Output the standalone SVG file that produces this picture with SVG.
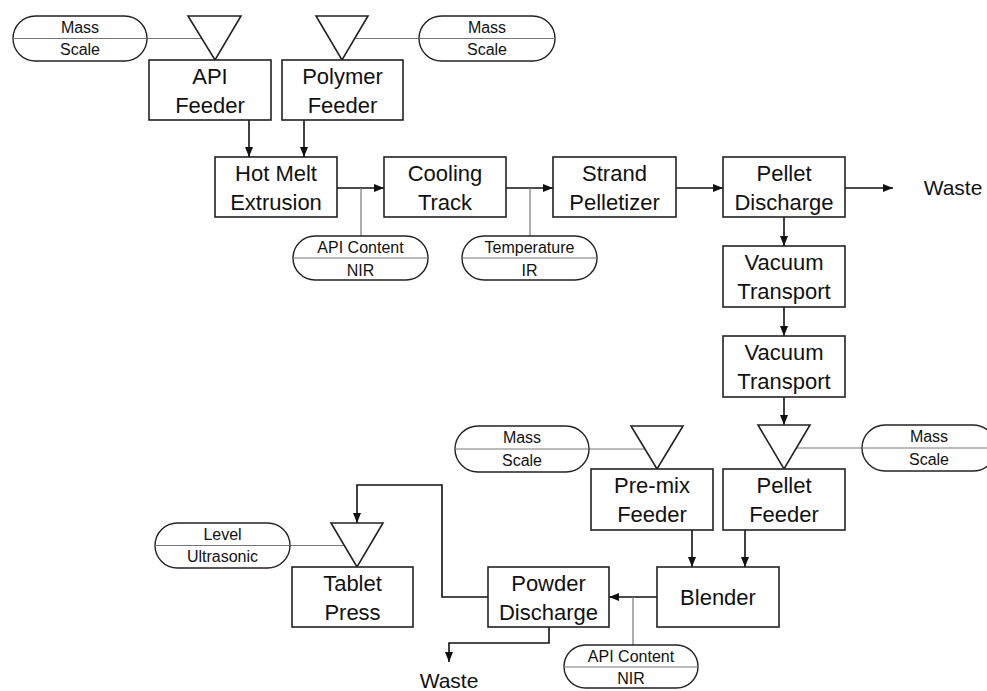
<svg xmlns="http://www.w3.org/2000/svg" width="987" height="691" viewBox="0 0 987 691">
<style>
.box{fill:#fff;stroke:#222;stroke-width:1.6}
.tri{fill:#fff;stroke:#222;stroke-width:1.6}
.pill{fill:#fff;stroke:#222;stroke-width:1.4}
.div{stroke:#777;stroke-width:1;fill:none}
.tap{stroke:#777;stroke-width:1.2;fill:none}
.flow{stroke:#111;stroke-width:1.6;fill:none}
.bt{font-family:"Liberation Sans",Arial,sans-serif;font-size:22px;fill:#111;text-anchor:middle}
.pt{font-family:"Liberation Sans",Arial,sans-serif;font-size:16px;fill:#111;text-anchor:middle}
</style>
<defs>
<marker id="ah" markerUnits="userSpaceOnUse" markerWidth="10" markerHeight="10" viewBox="0 0 10 10" refX="10" refY="5" orient="auto">
<path d="M0,1 L10,5 L0,9 Z" fill="#111"/>
</marker>
</defs>
<rect width="987" height="691" fill="#fff"/>

<g id="connectors">
<path class="flow" d="M249,120 V157" marker-end="url(#ah)"/>
<path class="flow" d="M304,120 V157" marker-end="url(#ah)"/>
<path class="flow" d="M337,188 H384" marker-end="url(#ah)"/>
<path class="flow" d="M506,188 H553" marker-end="url(#ah)"/>
<path class="flow" d="M676,188 H723" marker-end="url(#ah)"/>
<path class="flow" d="M845,188 H893" marker-end="url(#ah)"/>
<path class="flow" d="M784,217 V246" marker-end="url(#ah)"/>
<path class="flow" d="M784,307 V336" marker-end="url(#ah)"/>
<path class="flow" d="M784,397 V425" marker-end="url(#ah)"/>
<path class="flow" d="M692,530 V567" marker-end="url(#ah)"/>
<path class="flow" d="M745,530 V567" marker-end="url(#ah)"/>
<path class="flow" d="M657,597 H609" marker-end="url(#ah)"/>
<path class="flow" d="M488,597 H442 V485 H357 V523" marker-end="url(#ah)"/>
<path class="flow" d="M549,627 V643 H449 V662" marker-end="url(#ah)"/>
<path class="tap" d="M361,188 V236"/>
<path class="tap" d="M530,188 V236"/>
<path class="tap" d="M633,597 V645"/>
<path class="div" d="M147,38.5 H201"/>
<path class="div" d="M355,38.5 H419"/>
<path class="div" d="M589,449 H645"/>
<path class="div" d="M797,448 H862"/>
<path class="div" d="M290,545.5 H344"/>
</g>

<g id="api-feeder">
<polygon class="tri" points="188,16 241,16 215,60"/>
<rect class="box" x="149" y="60" width="122" height="60"/>
<text class="bt" x="210" y="84">API</text>
<text class="bt" x="210" y="113">Feeder</text>
</g>
<g id="polymer-feeder">
<polygon class="tri" points="316,16 368,16 342,60"/>
<rect class="box" x="282" y="60" width="121" height="60"/>
<text class="bt" x="342.5" y="84">Polymer</text>
<text class="bt" x="342.5" y="113">Feeder</text>
</g>
<g id="mass-scale-1">
<rect class="pill" x="13" y="16" width="134" height="45" rx="22.5"/>
<path class="div" d="M13,38.5 H147"/>
<text class="pt" x="80" y="33">Mass</text>
<text class="pt" x="80" y="55">Scale</text>
</g>
<g id="mass-scale-2">
<rect class="pill" x="419" y="16" width="136" height="45" rx="22.5"/>
<path class="div" d="M419,38.5 H555"/>
<text class="pt" x="487" y="33">Mass</text>
<text class="pt" x="487" y="55">Scale</text>
</g>
<g id="hot-melt-extrusion">
<rect class="box" x="215" y="157" width="122" height="60"/>
<text class="bt" x="276" y="181">Hot Melt</text>
<text class="bt" x="276" y="210">Extrusion</text>
</g>
<g id="cooling-track">
<rect class="box" x="384" y="157" width="122" height="60"/>
<text class="bt" x="445" y="181">Cooling</text>
<text class="bt" x="445" y="210">Track</text>
</g>
<g id="strand-pelletizer">
<rect class="box" x="553" y="157" width="123" height="60"/>
<text class="bt" x="614.5" y="181">Strand</text>
<text class="bt" x="614.5" y="210">Pelletizer</text>
</g>
<g id="pellet-discharge">
<rect class="box" x="723" y="157" width="122" height="60"/>
<text class="bt" x="784" y="181">Pellet</text>
<text class="bt" x="784" y="210">Discharge</text>
</g>
<g id="waste-1">
<text class="bt" x="953" y="195" style="font-size:21px">Waste</text>
</g>
<g id="api-content-nir-1">
<rect class="pill" x="293" y="236" width="135" height="44" rx="22"/>
<path class="div" d="M293,258 H428"/>
<text class="pt" x="360.5" y="253">API Content</text>
<text class="pt" x="360.5" y="276">NIR</text>
</g>
<g id="temperature-ir">
<rect class="pill" x="462" y="236" width="135" height="44" rx="22"/>
<path class="div" d="M462,258 H597"/>
<text class="pt" x="529.5" y="253">Temperature</text>
<text class="pt" x="529.5" y="276">IR</text>
</g>
<g id="vacuum-transport-1">
<rect class="box" x="723" y="246" width="122" height="61"/>
<text class="bt" x="784" y="270">Vacuum</text>
<text class="bt" x="784" y="299">Transport</text>
</g>
<g id="vacuum-transport-2">
<rect class="box" x="723" y="336" width="122" height="61"/>
<text class="bt" x="784" y="360">Vacuum</text>
<text class="bt" x="784" y="389">Transport</text>
</g>
<g id="mass-scale-3">
<rect class="pill" x="455" y="426" width="134" height="46" rx="23"/>
<path class="div" d="M455,449 H589"/>
<text class="pt" x="522" y="443">Mass</text>
<text class="pt" x="522" y="466">Scale</text>
</g>
<g id="premix-feeder">
<polygon class="tri" points="631,426 683,426 657,469"/>
<rect class="box" x="591" y="469" width="122" height="61"/>
<text class="bt" x="652" y="493">Pre-mix</text>
<text class="bt" x="652" y="522">Feeder</text>
</g>
<g id="pellet-feeder">
<polygon class="tri" points="758,425 810,425 784,469"/>
<rect class="box" x="723" y="469" width="122" height="61"/>
<text class="bt" x="784" y="493">Pellet</text>
<text class="bt" x="784" y="522">Feeder</text>
</g>
<g id="mass-scale-4">
<rect class="pill" x="862" y="425" width="134" height="46" rx="23"/>
<path class="div" d="M862,448 H996"/>
<text class="pt" x="929" y="442">Mass</text>
<text class="pt" x="929" y="465">Scale</text>
</g>
<g id="blender">
<rect class="box" x="657" y="567" width="122" height="60"/>
<text class="bt" x="718" y="605">Blender</text>
</g>
<g id="powder-discharge">
<rect class="box" x="488" y="567" width="121" height="60"/>
<text class="bt" x="548.5" y="591">Powder</text>
<text class="bt" x="548.5" y="620">Discharge</text>
</g>
<g id="api-content-nir-2">
<rect class="pill" x="564" y="645" width="134" height="43" rx="21.5"/>
<path class="div" d="M564,667 H698"/>
<text class="pt" x="631" y="662">API Content</text>
<text class="pt" x="631" y="684">NIR</text>
</g>
<g id="tablet-press">
<polygon class="tri" points="331,523 383,523 357,567"/>
<rect class="box" x="292" y="567" width="121" height="60"/>
<text class="bt" x="352.5" y="591">Tablet</text>
<text class="bt" x="352.5" y="620">Press</text>
</g>
<g id="level-ultrasonic">
<rect class="pill" x="155" y="523" width="135" height="45" rx="22.5"/>
<path class="div" d="M155,545.5 H290"/>
<text class="pt" x="222.5" y="540">Level</text>
<text class="pt" x="222.5" y="562">Ultrasonic</text>
</g>
<g id="waste-2">
<text class="bt" x="449" y="688" style="font-size:21px">Waste</text>
</g>
</svg>
